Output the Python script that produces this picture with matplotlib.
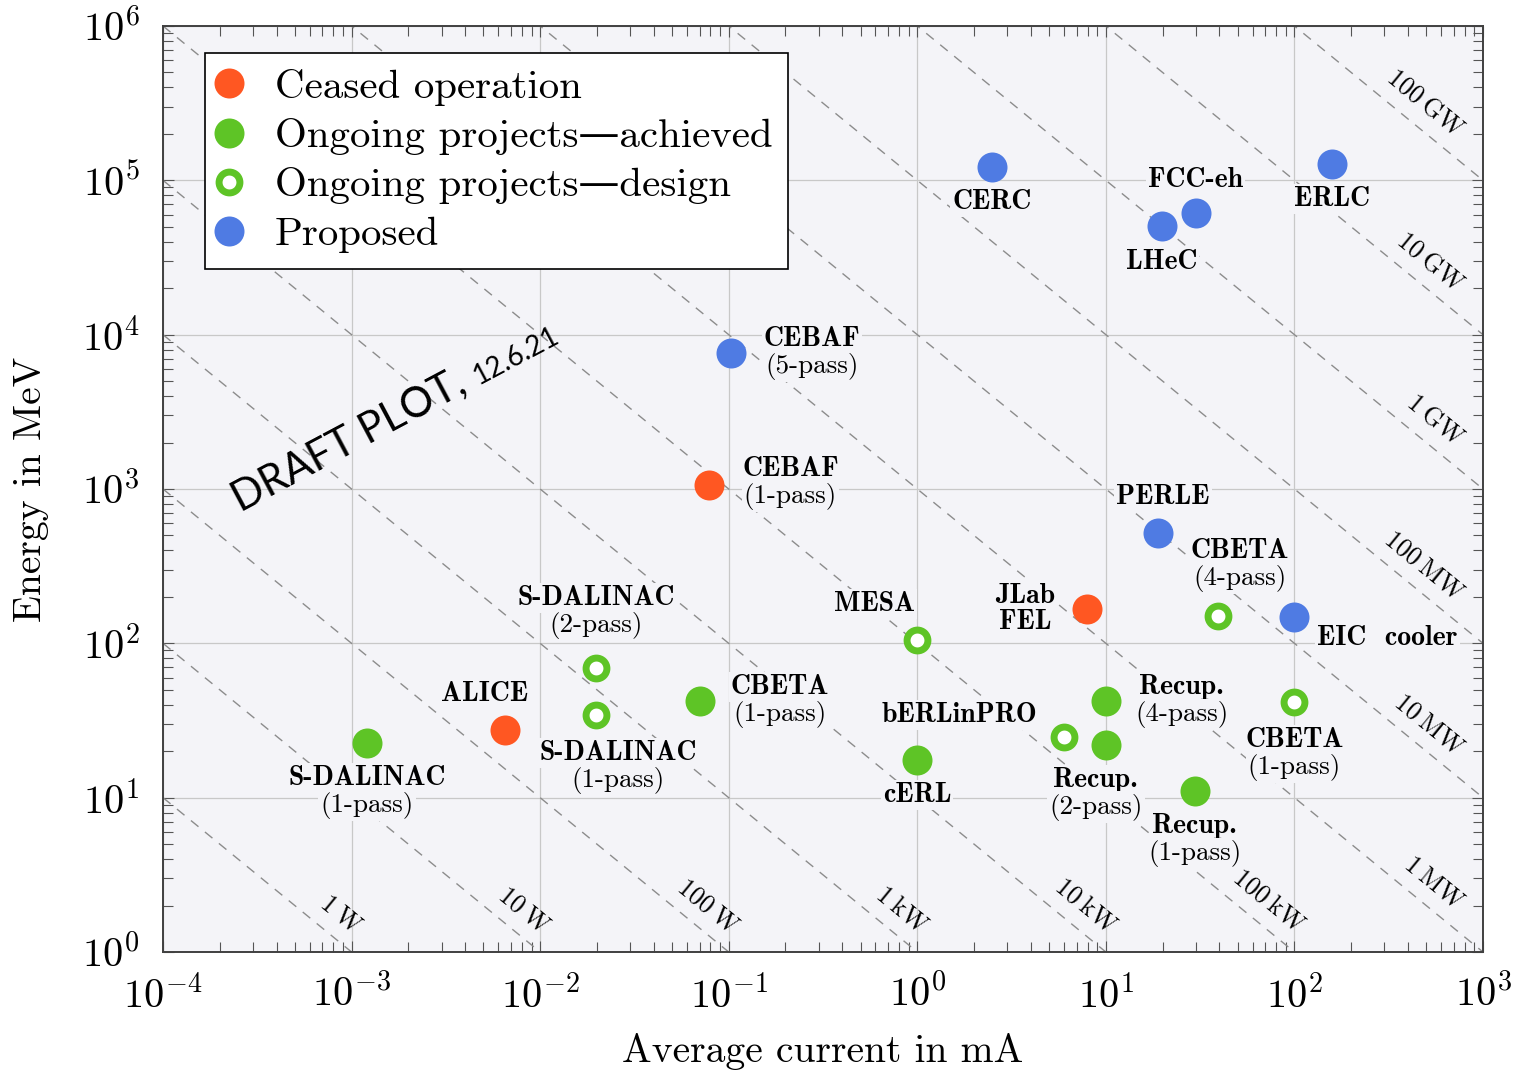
import numpy as np
import matplotlib
matplotlib.use('Agg')
import matplotlib.pyplot as plt
from matplotlib.lines import Line2D
from matplotlib.ticker import LogLocator, FuncFormatter

plt.rcParams['mathtext.fontset'] = 'cm'
plt.rcParams['mathtext.default'] = 'rm'

# ---- data: average current (mA) and energy (MeV) ----
ceased_names = ['ALICE', 'CEBAF', 'JLab\nFEL']
ceased_pass = ['', '(1-pass)', '']
ceased_I = [0.0065, 0.079, 7.9]
ceased_E = [27.4, 1060, 167]

achieved_names = ['S-DALINAC', 'CBETA', 'cERL', 'Recup.', 'Recup.', 'Recup.']
achieved_pass = ['(1-pass)', '(1-pass)', '', '(4-pass)', '(2-pass)', '(1-pass)']
achieved_I = [0.00121, 0.0703, 1.0, 10.0, 10.0, 29.6]
achieved_E = [22.5, 42.2, 17.5, 42.0, 21.9, 11.0]

design_names = ['S-DALINAC', 'S-DALINAC', 'MESA', 'bERLinPRO', 'CBETA', 'CBETA']
design_pass = ['(2-pass)', '(1-pass)', '', '', '(4-pass)', '(1-pass)']
design_I = [0.0198, 0.0198, 1.0, 6.0, 39.3, 100.0]
design_E = [69, 34.3, 105, 24.7, 150, 41.6]

proposed_names = ['CERC', 'LHeC', 'FCC-eh', 'ERLC', 'CEBAF', 'PERLE', 'EIC  cooler']
proposed_pass = ['', '', '', '', '(5-pass)', '', '']
proposed_I = [2.49, 19.8, 30.0, 158, 0.103, 18.9, 100.0]
proposed_E = [1.22e5, 5.06e4, 6.1e4, 1.28e5, 7600, 518, 148]

power_W = [1, 1e1, 1e2, 1e3, 1e4, 1e5, 1e6, 1e7, 1e8, 1e9, 1e10, 1e11]
power_labels = ['1\u2009W', '10\u2009W', '100\u2009W', '1\u2009kW', '10\u2009kW', '100\u2009kW',
                '1\u2009MW', '10\u2009MW', '100\u2009MW', '1\u2009GW', '10\u2009GW', '100\u2009GW']

legend_labels = ['Ceased operation', 'Ongoing projects\u2014achieved',
                 'Ongoing projects\u2014design', 'Proposed']

# ---- layout: label offsets from marker centre, in pixels (x right, y up) ----
ceased_off = [(-20, 36), (81, 2), (-61, 0)]
achieved_off = [(0, -49), (80, 0), (0, -35), (76, 0), (-10, -49), (0, -49)]
design_off = [(0, 56), (22, -52), (-43, 36), (-105, 22), (22, 51), (0, -52)]
proposed_off = [(0, -35), (0, -36), (0, 33), (0, -35), (81, 0), (5, 36), (93, -21)]

RED = '#ff5722'
GREEN = '#5ec426'
BLUE = '#4f7be3'
BG = '#f4f4f8'
PX = 72 / 100  # pixel -> point

REG = ['cmr10', 'DejaVu Serif']
BOLD = ['cmb10', 'DejaVu Serif']

fig = plt.figure(figsize=(15.14, 10.76), dpi=100)
ax = fig.add_axes([163 / 1514, 124 / 1076, 1320 / 1514, 926 / 1076])
ax.set_facecolor(BG)
ax.set_xscale('log')
ax.set_yscale('log')
ax.set_xlim(1e-4, 1e3)
ax.set_ylim(1e0, 1e6)

ax.grid(True, which='major', color='#c8c8c8', lw=0.9, zorder=0)
ax.set_axisbelow(True)
for axis in (ax.xaxis, ax.yaxis):
    axis.set_major_locator(LogLocator(base=10, numticks=20))
    axis.set_minor_locator(LogLocator(base=10, subs=np.arange(2, 10), numticks=20))
    axis.set_major_formatter(FuncFormatter(lambda v, pos: r'$10^{%d}$' % round(np.log10(v))))
ax.tick_params(which='both', direction='in', top=True, right=True, color='#555555')
ax.tick_params(which='major', length=8, width=0.8, labelsize=29)
ax.tick_params(which='minor', length=7, width=0.8)
ax.tick_params(axis='x', which='major', pad=17)
ax.tick_params(axis='y', which='major', pad=17)
for sp in ax.spines.values():
    sp.set_color('#404040')
    sp.set_linewidth(1.4)

# ---- constant power lines ----
Ix = np.logspace(-4, 3, 200)
for P in power_W:
    ax.plot(Ix, P / 1000 / Ix, color='#8c8c8c', lw=1.0, ls=(0, (7, 6)), zorder=1)

p0 = ax.transData.transform((1e-3, 1e1))
p1 = ax.transData.transform((1e-2, 1e0))
d = p0 - p1
u = d / np.hypot(*d)           # up-left along the line
n = np.array([u[1], -u[0]])    # perpendicular, up-right
ang = np.degrees(np.arctan2(-d[1], -d[0]))
for P, lab in zip(power_W, power_labels):
    c = P / 1000
    if c < 1e3:
        end = (c, 1.0)
        along = 10
    else:
        end = (1e3, c / 1e3)
        along = 48
    off = (along * u + 22 * n) * PX
    ax.annotate(lab, xy=end, xytext=off, textcoords='offset points',
                ha='right', va='center', rotation=ang, rotation_mode='anchor',
                fontsize=18.5, family=REG, zorder=2)


def put_labels(names, passes, xs, ys, offs):
    for nm, ps, x, y, (dx, dy) in zip(names, passes, xs, ys, offs):
        bb = dict(facecolor=BG, edgecolor='none', pad=1.5)
        if ps:
            ax.annotate(nm, xy=(x, y), xytext=(dx * PX, (dy + 14) * PX), textcoords='offset points',
                        ha='center', va='center', fontsize=20, family=BOLD, bbox=bb, zorder=3)
            ax.annotate(ps, xy=(x, y), xytext=(dx * PX, (dy - 13) * PX), textcoords='offset points',
                        ha='center', va='center', fontsize=19.5, family=REG, bbox=bb, zorder=3)
        else:
            ax.annotate(nm, xy=(x, y), xytext=(dx * PX, dy * PX), textcoords='offset points',
                        ha='center', va='center', fontsize=20, family=BOLD, bbox=bb,
                        linespacing=1.0, zorder=3)


put_labels(ceased_names, ceased_pass, ceased_I, ceased_E, ceased_off)
put_labels(achieved_names, achieved_pass, achieved_I, achieved_E, achieved_off)
put_labels(design_names, design_pass, design_I, design_E, design_off)
put_labels(proposed_names, proposed_pass, proposed_I, proposed_E, proposed_off)

ms_full = 21.6
ms_ring, mew_ring = 15.0, 5.0
ax.plot(ceased_I, ceased_E, 'o', ms=ms_full, mfc=RED, mec='none', zorder=5)
ax.plot(achieved_I, achieved_E, 'o', ms=ms_full, mfc=GREEN, mec='none', zorder=5)
ax.plot(design_I, design_E, 'o', ms=ms_ring, mfc='white', mec=GREEN, mew=mew_ring, zorder=5)
ax.plot(proposed_I, proposed_E, 'o', ms=ms_full, mfc=BLUE, mec='none', zorder=5)

handles = [Line2D([], [], marker='o', ls='', ms=ms_full, mfc=RED, mec='none'),
           Line2D([], [], marker='o', ls='', ms=ms_full, mfc=GREEN, mec='none'),
           Line2D([], [], marker='o', ls='', ms=ms_ring, mfc='white', mec=GREEN, mew=mew_ring),
           Line2D([], [], marker='o', ls='', ms=ms_full, mfc=BLUE, mec='none')]
leg = ax.legend(handles, legend_labels, loc='upper left', bbox_to_anchor=(0.0318, 0.9708),
                borderaxespad=0, prop={'family': REG, 'size': 29.5}, frameon=True, fancybox=False,
                framealpha=1, edgecolor='black', facecolor='white', handlelength=0.4,
                handletextpad=0.93, borderpad=0.38, labelspacing=0.3)
leg.get_frame().set_linewidth(1.2)
leg.set_zorder(6)

ax.set_xlabel('Average current in mA', fontsize=28.5, family=REG)
ax.set_ylabel('Energy in MeV', fontsize=28.5, family=REG)
ax.xaxis.set_label_coords(0.5, -0.088)
ax.yaxis.set_label_coords(-0.086, 0.5)

# draft stamp: second part follows the first along the same baseline
rot = 28
x0, y0 = 240, 1076 - 512
t1 = fig.text(x0 / 1514, y0 / 1076, 'DRAFT PLOT,', fontsize=30, family='Lato',
              rotation=0, ha='left', va='baseline')
fig.canvas.draw()
w = t1.get_window_extent().width + 12
t1.set_rotation(rot)
t1.set_rotation_mode('anchor')
x1 = x0 + w * np.cos(np.radians(rot))
y1 = y0 + w * np.sin(np.radians(rot))
fig.text(x1 / 1514, y1 / 1076, '12.6.21', fontsize=20, family='Lato',
         rotation=rot, rotation_mode='anchor', ha='left', va='baseline')

fig.savefig('out.png', dpi=100)
